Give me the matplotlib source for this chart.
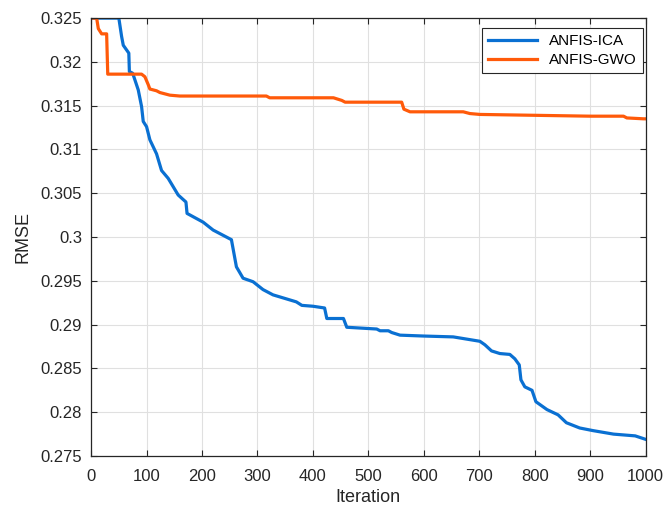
import numpy as np
import matplotlib
matplotlib.use("Agg")
import matplotlib.pyplot as plt

plt.rcParams['font.family'] = ['Liberation Sans', 'DejaVu Sans']

# ANFIS-ICA convergence
ica_iter = [0, 50, 55, 58, 68, 69, 75, 85, 91, 94, 100, 106, 118, 127, 139, 157,
            171, 173, 202, 220, 238, 253, 262, 274, 292, 310, 328, 370, 380, 400,
            421, 425, 455, 461, 515, 521, 536, 542, 557, 599, 653, 701, 710, 722,
            737, 755, 764, 772, 775, 782, 795, 802, 822, 842, 857, 881, 905, 942,
            981, 1000]
ica_rmse = [0.3250, 0.3250, 0.3229, 0.3219, 0.3210, 0.3189, 0.3187, 0.3168, 0.3149,
            0.3132, 0.3126, 0.3111, 0.3095, 0.3076, 0.3067, 0.3048, 0.3040, 0.3027,
            0.3017, 0.3008, 0.3002, 0.2997, 0.2966, 0.2953, 0.2949, 0.2940, 0.2934,
            0.2926, 0.2922, 0.2921, 0.2919, 0.2907, 0.2907, 0.2897, 0.2895, 0.2893,
            0.2893, 0.2891, 0.2888, 0.2887, 0.2886, 0.2881, 0.2877, 0.2870, 0.2867,
            0.2866, 0.2861, 0.2854, 0.2837, 0.2829, 0.2825, 0.2812, 0.2803, 0.2797,
            0.2788, 0.2782, 0.2779, 0.2775, 0.2773, 0.2769]

# ANFIS-GWO convergence
gwo_iter = [0, 10, 13, 19, 28, 30, 91, 97, 103, 106, 118, 124, 142, 160, 316, 322,
            437, 452, 458, 560, 564, 575, 671, 683, 701, 900, 960, 966, 996, 1000]
gwo_rmse = [0.3250, 0.3250, 0.3238, 0.3232, 0.3232, 0.3186, 0.3186, 0.3183, 0.3174,
            0.3169, 0.3167, 0.3165, 0.3162, 0.3161, 0.3161, 0.3159, 0.3159, 0.3156,
            0.3154, 0.3154, 0.3146, 0.3143, 0.3143, 0.3141, 0.3140, 0.3138, 0.3138,
            0.3136, 0.3135, 0.3135]

fig = plt.figure(figsize=(6.65, 5.11), dpi=100)
ax = fig.add_axes([0.137, 0.1076, 0.834, 0.857])

ax.plot(ica_iter, ica_rmse, color='#0A70D2', lw=2.3, label='ANFIS-ICA')
ax.plot(gwo_iter, gwo_rmse, color='#FF5A0A', lw=2.3, label='ANFIS-GWO')

ax.set_xlim(0, 1000)
ax.set_ylim(0.275, 0.325)
ax.set_xticks(np.arange(0, 1001, 100))
ax.set_yticks(np.arange(0.275, 0.3251, 0.005))
ax.set_yticklabels(['0.275', '0.28', '0.285', '0.29', '0.295', '0.3',
                    '0.305', '0.31', '0.315', '0.32', '0.325'])
ax.grid(True, color='#e0e0e0', lw=0.8)
ax.set_axisbelow(True)
ax.tick_params(direction='in', top=True, right=True, labelsize=12, length=4,
               colors='#262626')
ax.tick_params(axis='x', pad=9)
ax.tick_params(axis='y', pad=6.5)
for s in ax.spines.values():
    s.set_color('#262626')
    s.set_linewidth(0.9)

ax.set_xlabel('Iteration', fontsize=13, color='#262626', labelpad=4)
ax.set_ylabel('RMSE', fontsize=13, color='#262626', labelpad=6)

leg = ax.legend(loc='upper right', bbox_to_anchor=(0.995, 0.977), borderaxespad=0,
                fontsize=11, fancybox=False, framealpha=1, edgecolor='#262626',
                handlelength=3.2, labelspacing=0.3, borderpad=0.4)
leg.get_frame().set_linewidth(0.8)

fig.savefig('out.png', dpi=100)
